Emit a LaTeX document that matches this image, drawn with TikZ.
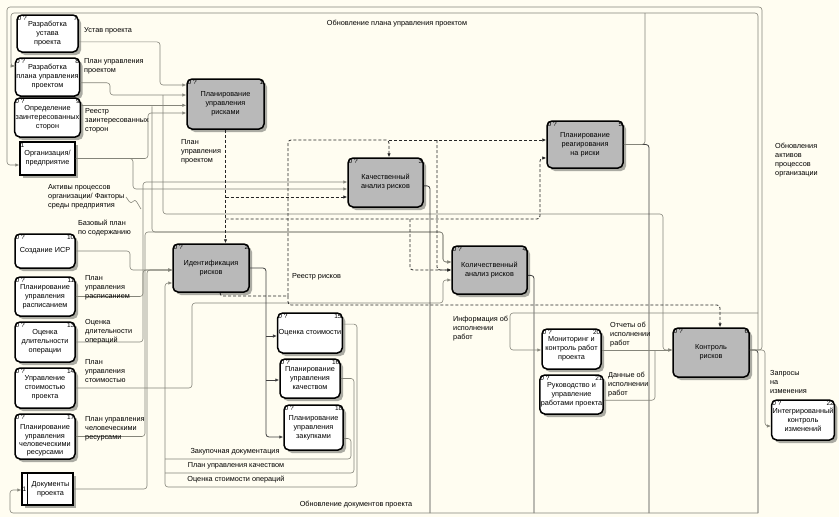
\documentclass[tikz,border=0pt]{standalone}
\usepackage{fontspec}
\setmainfont{Liberation Sans}
\usetikzlibrary{arrows.meta,shadows}
\definecolor{paper}{HTML}{FFFDF1}
\definecolor{wire}{HTML}{85857A}
\definecolor{boxgray}{HTML}{B9B9B9}
\definecolor{hatch}{HTML}{ABABA3}
\newcommand{\lblfont}{\fontsize{7.3}{9}\selectfont}
\newcommand{\tagfont}{\fontsize{6.5}{7}\selectfont}

\begin{document}
\begin{tikzpicture}[x=1pt,y=-1pt,
    act/.style = {draw, line width=1.5pt, rounded corners=5pt, fill=white,
        align=center, inner sep=1pt, font=\lblfont,
        general shadow={fill=hatch, shadow xshift=3pt, shadow yshift=-3pt}},
    risk/.style = {act, fill=boxgray},
    ext/.style = {act, rounded corners=0pt},
    tag/.style = {font=\tagfont, inner sep=1.2pt, anchor=north west},
    tagr/.style = {tag, anchor=north east},
    txt/.style = {font=\lblfont, align=left, inner sep=0pt, anchor=north west},
    flow/.style = {draw=wire, line width=0.6pt, rounded corners=3pt},
    bus/.style = {flow, draw=black!75, line width=0.8pt},
    ctl/.style = {draw=black!85, line width=0.8pt, dash pattern=on 3pt off 2pt, rounded corners=3pt},
    tip/.style = {-{Latex[length=4pt,width=3.5pt]}},
    ]

    % Sheet
    \useasboundingbox (0,0) rectangle (839,517);
    \fill[paper] (0,0) rectangle (839,517);

    % Left column
    \node[act, minimum width=61pt, minimum height=37pt, label={[tag]north west:0 ?}, label={[tagr]north east:7}] (b7) at (47.5,33.5) {Разработка\\устава\\проекта};
    \node[act, minimum width=61pt, minimum height=38pt, label={[tag]north west:0 ?}, label={[tagr]north east:8}] (b8) at (47.5,77) {Разработка\\плана управления\\проектом};
    \node[act, minimum width=61pt, minimum height=39pt, label={[tag]north west:0 ?}, label={[tagr]north east:9}] (b9) at (47.5,117.5) {Определение\\заинтересованных\\сторон};
    \node[ext, minimum width=55pt, minimum height=33pt, label={[tag]north west:1}] (org) at (47.5,158.5) {Организация/\\предприятие};
    \node[act, minimum width=60pt, minimum height=34pt, label={[tag]north west:0 ?}, label={[tagr]north east:10}] (b10) at (45,251) {Создание ИСР};
    \node[act, minimum width=60pt, minimum height=39pt, label={[tag]north west:0 ?}, label={[tagr]north east:11}] (b11) at (45,296.5) {Планирование\\управления\\расписанием};
    \node[act, minimum width=60pt, minimum height=40pt, label={[tag]north west:0 ?}, label={[tagr]north east:13}] (b13) at (45,342) {Оценка\\длительности\\операции};
    \node[act, minimum width=60pt, minimum height=40pt, label={[tag]north west:0 ?}, label={[tagr]north east:14}] (b14) at (45,388) {Управление\\стоимостью\\проекта};
    \node[act, minimum width=60pt, minimum height=45pt, label={[tag]north west:0 ?}, label={[tagr]north east:17},
        label={[font=\fontsize{7.3}{8.2}\selectfont, align=center, anchor=center, yshift=-4pt]center:{Планирование\\управления\\человеческими\\ресурсами}}] (b17) at (45,436.5) {};
    \node[ext, minimum width=51pt, minimum height=32pt, label={[tag,anchor=west]west:1}] (doc) at (47.5,489) {\hspace{6pt}Документы\\\hspace{6pt}проекта};
    \draw[line width=1.2pt] ([xshift=6pt]doc.north west) -- ([xshift=6pt]doc.south west);

    % Risk processes
    \node[risk, minimum width=77pt, minimum height=50pt, label={[tag]north west:0 ?}, label={[tagr]north east:1}] (b1) at (225.5,104) {Планирование\\управления\\рисками};
    \node[risk, minimum width=76pt, minimum height=48pt, label={[tag]north west:0 ?}, label={[tagr]north east:2}] (b2) at (211,268) {Идентификация\\рисков};
    \node[risk, minimum width=75pt, minimum height=49pt, label={[tag]north west:0 ?}, label={[tagr]north east:3}] (b3) at (385.5,182.5) {Качественный\\анализ рисков};
    \node[risk, minimum width=75pt, minimum height=48pt, label={[tag]north west:0 ?}, label={[tagr]north east:4}] (b4) at (489.5,270) {Количественный\\анализ рисков};
    \node[risk, minimum width=76pt, minimum height=47pt, label={[tag]north west:0 ?}, label={[tagr]north east:5}] (b5) at (585,144.5) {Планирование\\реагирования\\на риски};
    \node[risk, minimum width=76pt, minimum height=49pt, label={[tag]north west:0 ?}, label={[tagr]north east:6}] (b6) at (711,352.5) {Контроль\\рисков};

    % Other processes
    \node[act, minimum width=60pt, minimum height=40pt, label={[tag]north west:0 ?}, label={[tagr]north east:15}] (b15) at (310,333) {Оценка стоимости};
    \node[act, minimum width=60pt, minimum height=39pt, label={[tag]north west:0 ?}, label={[tagr]north east:16}] (b16) at (310,378.5) {Планирование\\управления\\качеством};
    \node[act, minimum width=59pt, minimum height=45pt, label={[tag]north west:0 ?}, label={[tagr]north east:18}] (b18) at (313.5,427.5) {Планирование\\управления\\закупками};
    \node[act, minimum width=59pt, minimum height=40pt, label={[tag]north west:0 ?}, label={[tagr]north east:20}] (b20) at (571.5,349) {Мониторинг и\\контроль работ\\проекта};
    \node[act, minimum width=59pt, minimum height=39pt, label={[tag]north west:0 ?}, label={[tagr]north east:21}] (b21) at (571.5,394.5) {Руководство и\\управление\\работами проекта};
    \node[act, minimum width=60pt, minimum height=40pt, label={[tag]north west:0 ?}, label={[tagr]north east:22}] (b22) at (803,420) {Интегрированный\\контроль\\изменений};

    % Inputs of box 1
    \draw[flow,tip] (b7.-15) -| (160,85) -- (b1.west |- 0,85);
    \draw[flow,tip] (b8.-10) -| (110,95) -- (b1.west |- 0,95);
    \draw[flow,tip] (b9.20) -- (b1.west |- b9.20);
    \draw[flow,tip] (org.east) -| (148,113) -- (b1.west |- 0,113);
    \coordinate (pm) at (163,95);
    \draw[flow,tip] (pm) -- (163,214) -| (663,350) -- (b6.west |- 0,350);
    \coordinate (rz) at (152,106.4);
    \draw[flow,tip] (rz) -- (152,232) -| (443,262) -- (b4.west |- 0,262);

    % Inputs of boxes 2, 3, 4
    \draw[flow,tip] (org.east) -| (133,189) -- (b3.west |- 0,189);
    \draw[flow,tip] (b10.east) -| (130,270) -- (b2.west |- 0,270);
    \draw[flow,tip] (b11.east) -| (143,182) -- (b3.west |- 0,182);
    \draw[flow,tip] (b13.east) -| (143,270) -- (b2.west |- 0,270);
    \draw[flow,tip] (b14.east) -| (192,303) -| (443,280) -- (b4.west |- 0,280);
    \draw[flow,tip] (b17.east) -| (145,232) -| (443,262) -- (b4.west |- 0,262);
    \draw[flow,tip] (doc.east) -| (147,270) -- (b2.west |- 0,270);
    \draw[flow] (126,197) -- (131,204) -- (135,199) -- (141,209);

    % Outputs of boxes 15, 16, 18
    \draw[flow,tip] (b15.15) -| (357,487) -| (165,283) -- (b2.west |- 0,283);
    \draw[flow] (b16.east) -| (354,473) -- (165,473);
    \draw[flow] (b18.-20) -| (351,459) -- (165,459);

    % Output of box 2
    \draw[bus,tip] (b2.east) -| (266,437) -- (b18.west |- 0,437);
    \draw[bus,tip] (266,336) -- (b15.west |- 0,336);
    \draw[bus,tip] (266,380) -- (b16.west |- 0,380);

    % Outputs to the updates
    \draw[bus] (b3.-5) -| (430,513);
    \draw[bus] (b4.-8) -| (534,513);
    \draw[bus] (b5.east) -| (649,513);
    \draw[flow] (b5.east) -| (645,13);
    \coordinate (o6) at (758,350);
    \draw[bus] (b6.east |- o6) -- (o6) -- (758,513);
    \draw[flow,tip] (o6) -- (758,13) -- (11,13) -- (11,66) -- (b8.west |- 0,66);
    \draw[flow,tip] (b6.east |- o6) -| (762,7) -| (7,165) -- (org.west |- 0,165);
    \draw[flow,tip] (b6.east |- o6) -| (765,426) -- (b22.west |- 0,426);
    \draw[flow,tip] (758,513) -| (10,490) -- (doc.west |- 0,490);
    \draw[flow,tip] (758,313) -| (510,350) -- (b20.west |- 0,350);
    \draw[flow,tip] (b20.east |- 0,350) -- (b6.west |- 0,350);
    \draw[flow] (b21.-10) -| (655,350);

    % Risk plan and register
    \draw[ctl,tip] (b1.south) -- (b1.south |- b2.north);
    \draw[ctl,tip] (225.5,197) -- (b3.west |- 0,197);
    \draw[ctl,tip] (225.5,219) -| (540,158) -- (b5.west |- 0,158);
    \draw[ctl,tip] (410,219) |- (b4.west |- 0,270);
    \coordinate (rr) at (288,296);
    \draw[ctl] (b2.-70) |- (rr);
    \draw[ctl,tip] (rr) |- (389,140) -- (b3.north -| 389,0);
    \draw[ctl,tip] (389,140) -- (b5.west |- 0,140);
    \draw[ctl,tip] (437,140) |- (b4.west |- 0,270);
    \draw[ctl,tip] (rr) |- (720,305) -- (b6.north -| 720,0);

    % Labels
    \node[txt] (tUstav) at (84,27) {Устав проекта};
    \node[txt] (tPlan1) at (84,58) {План управления\\проектом};
    \node[txt] (tReestr) at (85,108) {Реестр\\заинтересованных\\сторон};
    \node[txt] (tPlan2) at (181,139) {План\\управления\\проектом};
    \node[txt] (tAkt) at (48,184) {Активы процессов\\организации/ Факторы\\среды предприятия};
    \node[txt] (tBase) at (78,220) {Базовый план\\по содержанию};
    \node[txt] (tRasp) at (85,275) {План\\управления\\расписанием};
    \node[txt] (tDlit) at (85,319) {Оценка\\длительности\\операций};
    \node[txt] (tStoim) at (85,359) {План\\управления\\стоимостью};
    \node[txt] (tHR) at (85,416) {План управления\\человеческими\\ресурсами};
    \node[font=\lblfont, inner sep=0pt] (tZak) at (235,452) {Закупочная документация};
    \node[font=\lblfont, inner sep=0pt] (tKach) at (236,466) {План управления качеством};
    \node[font=\lblfont, inner sep=0pt] (tOcen) at (236,480) {Оценка стоимости операций};
    \node[font=\lblfont, inner sep=0pt] (tDocUpd) at (356,505) {Обновление документов проекта};
    \node[font=\lblfont, inner sep=0pt] (tPlanUpd) at (397,24) {Обновление плана управления проектом};
    \node[txt] (tRisk) at (292,273) {Реестр рисков};
    \node[txt] (tInfo) at (453,316) {Информация об\\исполнении\\работ};
    \node[txt] (tOtch) at (610,322) {Отчеты об\\исполнении\\работ};
    \node[txt] (tDann) at (608,372) {Данные об\\исполнении\\работ};
    \node[txt] (tZapr) at (770,370) {Запросы\\на\\изменения};
    \node[txt] (tAktUpd) at (775,143) {Обновления\\активов\\процессов\\организации};

\end{tikzpicture}
\end{document}
